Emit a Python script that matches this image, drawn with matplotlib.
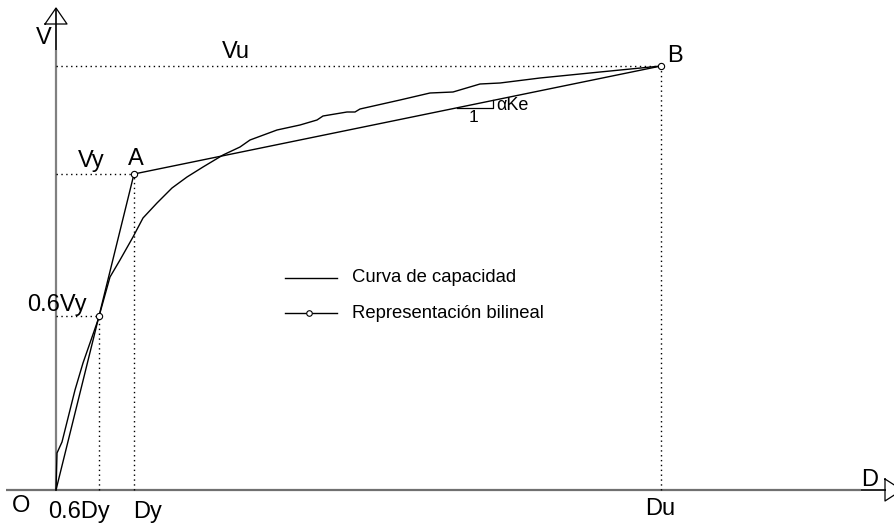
import matplotlib.pyplot as plt

plt.rcParams['font.family'] = ['Liberation Sans', 'DejaVu Sans']

# 能力曲线 (D, V)
curve_d = [0, 1, 6, 19, 27, 42, 54, 64, 77, 87, 101, 116, 131, 147, 167, 184, 194, 221,
           244, 261, 267, 291, 299, 304, 344, 374, 397, 424, 444, 484, 544, 605]
curve_v = [0, 37, 48, 100, 127, 170, 213, 230, 253, 272, 287, 302, 313, 323, 335, 343, 350, 360,
           365, 370, 374, 378, 378, 381, 390, 397, 398, 406, 407, 412, 418, 424]

# 双线性表示: O, 0.6Vy 点, A (Dy, Vy), B (Du, Vu)
Dy, Vy = 78, 316
Du, Vu = 605, 424
D06, V06 = 43, 174
bil_d = [0, D06, Dy, Du]
bil_v = [0, V06, Vy, Vu]

fig = plt.figure(figsize=(8.94, 5.29), dpi=100)
ax = fig.add_axes([0, 0, 1, 1])
ax.set_xlim(-56, 838)
ax.set_ylim(-39, 490)
ax.axis('off')

# 坐标轴
ax.plot([0, 0], [0, 440], color='#808080', lw=1.6, solid_capstyle='butt')
ax.plot([0, 0], [440, 482], color='black', lw=1.2, solid_capstyle='butt')
ax.plot([-11, 0, 11, -11], [466, 482, 466, 466], color='black', lw=0.9)
ax.plot([-50, 805], [0, 0], color='#707070', lw=1.6, solid_capstyle='butt')
ax.plot([805, 830], [0, 0], color='black', lw=1.2, solid_capstyle='butt')
ax.plot([829, 846, 829, 829], [11, 0, -11, 11], color='black', lw=0.9)

# 虚线辅助线
dot = dict(color='black', lw=1.0, linestyle=(0, (1, 2.5)))
ax.plot([0, Du], [Vu, Vu], **dot)
ax.plot([Du, Du], [0, Vu], **dot)
ax.plot([0, Dy], [Vy, Vy], **dot)
ax.plot([Dy, Dy], [0, Vy], **dot)
ax.plot([0, D06], [V06, V06], **dot)
ax.plot([D06, D06], [0, V06], **dot)

# 曲线
ax.plot(curve_d, curve_v, color='black', lw=1.0)
ax.plot(bil_d, bil_v, color='black', lw=1.0)
ax.plot(bil_d[1:], bil_v[1:], 'o', ms=4.5, mfc='white', mec='black', mew=0.8)

# 斜率小三角
k = (Vu - Vy) / (Du - Dy)
x0, x1 = 401, 437
ax.plot([x0, x1, x1], [Vy + k * (x0 - Dy), Vy + k * (x0 - Dy), Vy + k * (x1 - Dy)],
        color='black', lw=0.9)
ax.text(418, 372, '1', fontsize=12.5, ha='center', va='center')
ax.text(440, 384, 'αKe', fontsize=13, ha='left', va='center')

# 图例
ax.plot([229, 281], [212, 212], color='black', lw=1.0)
ax.plot([229, 281], [177, 177], color='black', lw=1.0)
ax.plot([253], [177], 'o', ms=4, mfc='white', mec='black', mew=0.8)
ax.text(296, 212, 'Curva de capacidad', fontsize=13.3, va='center')
ax.text(296, 177, 'Representación bilineal', fontsize=13.3, va='center')

# 标注
fs = 17
ax.text(-12, 452, 'V', fontsize=fs, ha='center', va='center')
ax.text(180, 438, 'Vu', fontsize=fs, ha='center', va='center')
ax.text(Du + 14, 434, 'B', fontsize=fs, ha='center', va='center')
ax.text(35, 329, 'Vy', fontsize=fs, ha='center', va='center')
ax.text(Dy + 2, 331, 'A', fontsize=fs, ha='center', va='center')
ax.text(31, 185, '0.6Vy', fontsize=fs, ha='right', va='center')
ax.text(-35, -16, 'O', fontsize=fs, ha='center', va='center')
ax.text(23, -22, '0.6Dy', fontsize=fs, ha='center', va='center')
ax.text(92, -22, 'Dy', fontsize=fs, ha='center', va='center')
ax.text(Du - 1, -19, 'Du', fontsize=fs, ha='center', va='center')
ax.text(814, 10, 'D', fontsize=fs, ha='center', va='center')

plt.savefig('out.png', dpi=100)
